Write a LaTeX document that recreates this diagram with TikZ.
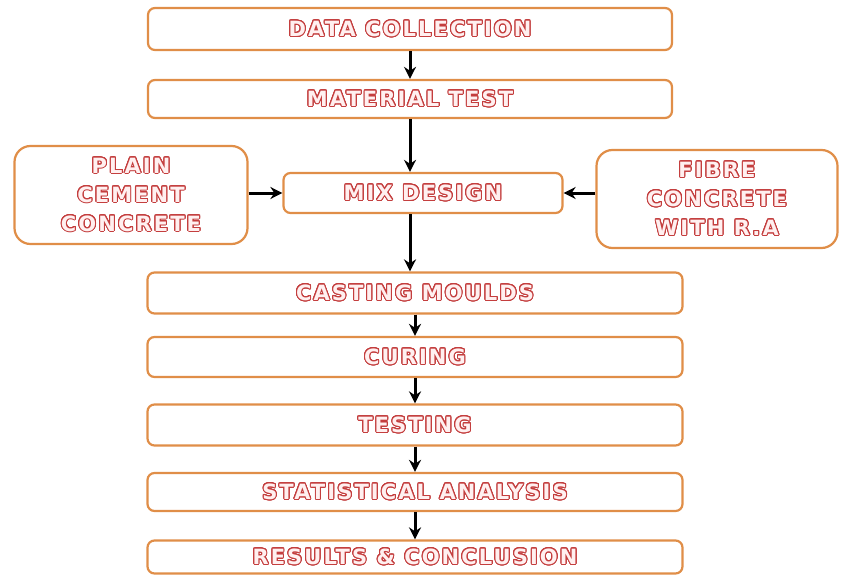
\documentclass[tikz,border=0pt]{standalone}
\usepackage{fontspec}
\usepackage[copies]{contour}
\usetikzlibrary{arrows.meta}
\newfontfamily\boxfont{DejaVu Sans}[LetterSpace=10]
\definecolor{boxline}{RGB}{224,142,72}
\definecolor{txtline}{RGB}{196,62,62}
\definecolor{txtfill}{RGB}{255,240,240}
\contourlength{1pt}
\contournumber{24}
\newcommand{\hollow}[1]{\contour{txtline}{\textcolor{txtfill}{#1}}}
\tikzset{
  stepbox/.style={draw=boxline, line width=2.2pt, rounded corners=7pt, fill=white,
    minimum width=535pt, inner sep=0pt, align=center,
    font=\boxfont\bfseries\fontsize{21}{29}\selectfont},
  sidebox/.style={stepbox, rounded corners=16pt, minimum height=98pt},
  flow/.style={-{Stealth[length=12pt,width=12pt]}, line width=3pt}
}
\begin{document}
\begin{tikzpicture}[x=1pt, y=-1pt]
	\useasboundingbox (0, 0) rectangle (841, 575);
	\node[stepbox, minimum width=524pt, minimum height=42pt] (collect) at (410, 29) {\hollow{DATA COLLECTION}};
	\node[stepbox, minimum width=524pt, minimum height=38pt] (material) at (410, 99) {\hollow{MATERIAL TEST}};
	\node[stepbox, minimum width=279pt, minimum height=40pt] (mix) at (423, 193) {\hollow{MIX DESIGN}};
	\node[sidebox, minimum width=233pt] (plain) at (131, 195) {\hollow{PLAIN}\\\hollow{CEMENT}\\\hollow{CONCRETE}};
	\node[sidebox, minimum width=241pt] (fibre) at (717, 199) {\hollow{FIBRE}\\\hollow{CONCRETE}\\\hollow{WITH R.A}};
	\node[stepbox, minimum height=41pt] (casting) at (415, 293) {\hollow{CASTING MOULDS}};
	\node[stepbox, minimum height=40pt] (curing) at (415, 357) {\hollow{CURING}};
	\node[stepbox, minimum height=41pt] (testing) at (415, 425) {\hollow{TESTING}};
	\node[stepbox, minimum height=38pt] (stats) at (415, 492) {\hollow{STATISTICAL ANALYSIS}};
	\node[stepbox, minimum height=33pt] (results) at (415, 557) {\hollow{RESULTS \& CONCLUSION}};
	% arrows
	\draw[flow] (collect) -- (material);
	\draw[flow] (material) -- (material |- mix.north);
	\draw[flow] (plain.east |- mix) -- (mix);
	\draw[flow] (fibre.west |- mix) -- (mix);
	\draw[flow] (mix.south -| material) -- (casting.north -| material);
	\draw[flow] (casting) -- (curing);
	\draw[flow] (curing) -- (testing);
	\draw[flow] (testing) -- (stats);
	\draw[flow] (stats) -- (results);
\end{tikzpicture}
\end{document}
